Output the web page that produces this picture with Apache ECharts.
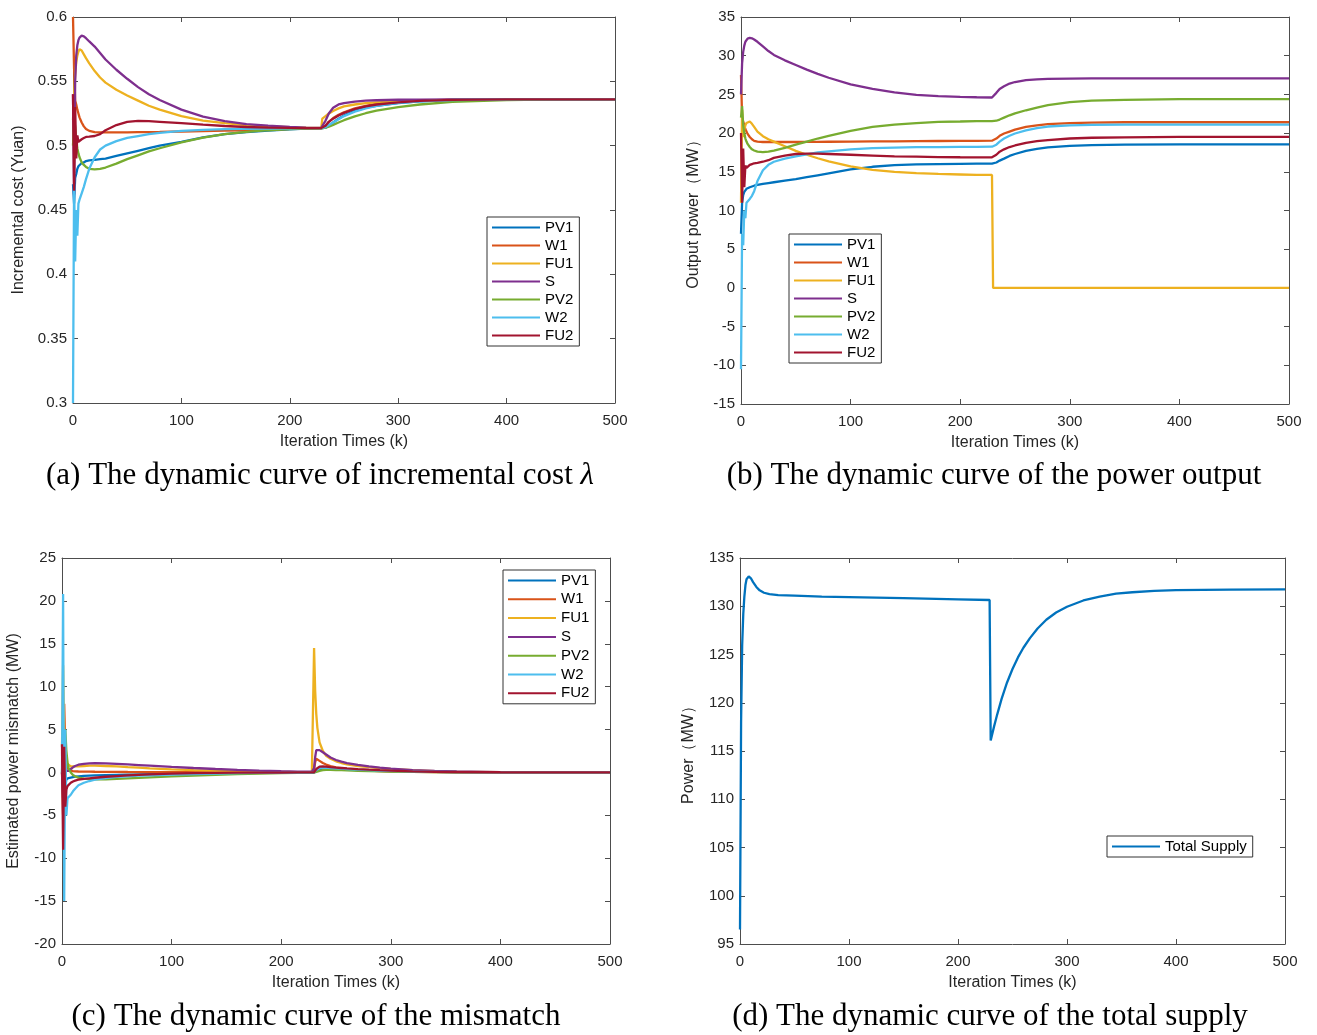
<!DOCTYPE html>
<html><head><meta charset="utf-8">
<script src="https://cdn.jsdelivr.net/npm/echarts@6/dist/echarts.min.js"></script>
<style>html,body{margin:0;padding:0;background:#fff}#c{width:1317px;height:1035px}</style>
</head><body><div id="c"></div><script>
// ---------- data ----------
const NAMES = ['PV1','W1','FU1','S','PV2','W2','FU2'];
const COLORS = ['#0072BD','#D95319','#EDB120','#7E2F8E','#77AC30','#4DBEEE','#A2142F'];
const X_TICKS = [0,100,200,300,400,500];

// iteration samples for panels (a) and (b)
const K_AB = [0,1,2,3,4,5,6,8,10,12,15,20,25,30,40,50,60,70,80,100,120,140,160,180,200,215,229,230,233,236,240,245,250,260,270,280,300,320,350,400,450,500];

// (a) incremental cost
const A_PV1 = [0.47,0.455,0.475,0.478,0.482,0.484,0.485,0.4865,0.487,0.488,0.4885,0.489,0.4895,0.490,0.492,0.494,0.496,0.498,0.500,0.503,0.5065,0.509,0.5105,0.5118,0.5127,0.5132,0.5135,0.5137,0.514,0.5155,0.518,0.521,0.5235,0.527,0.5295,0.531,0.533,0.5345,0.5355,0.536,0.536,0.536];
const A_W1  = [0.60,0.56,0.535,0.532,0.528,0.525,0.522,0.518,0.515,0.513,0.5115,0.5105,0.5103,0.5103,0.5103,0.5104,0.5105,0.5106,0.5107,0.511,0.5113,0.5117,0.512,0.5125,0.513,0.5133,0.5135,0.5137,0.5155,0.5185,0.5215,0.524,0.526,0.529,0.531,0.5325,0.534,0.535,0.5358,0.536,0.536,0.536];
const A_FU1 = [0.52,0.54,0.555,0.565,0.570,0.573,0.575,0.574,0.571,0.568,0.564,0.558,0.553,0.549,0.5435,0.539,0.535,0.531,0.528,0.523,0.5195,0.5175,0.516,0.515,0.5143,0.514,0.5138,0.521,0.523,0.525,0.527,0.529,0.5305,0.532,0.533,0.5337,0.5345,0.535,0.5356,0.536,0.536,0.536];
const A_S   = [0.54,0.462,0.55,0.57,0.578,0.582,0.584,0.5855,0.585,0.5835,0.581,0.577,0.572,0.567,0.559,0.552,0.5455,0.540,0.5355,0.528,0.5225,0.519,0.5168,0.5155,0.5145,0.514,0.5138,0.5138,0.5195,0.525,0.5295,0.532,0.533,0.5342,0.535,0.5353,0.5357,0.5358,0.536,0.536,0.536,0.536];
const A_PV2 = [0.50,0.52,0.515,0.505,0.498,0.494,0.491,0.487,0.485,0.4835,0.482,0.4815,0.482,0.483,0.486,0.4895,0.4925,0.4955,0.498,0.5025,0.5062,0.509,0.5107,0.512,0.5128,0.5132,0.5135,0.5135,0.514,0.5148,0.5162,0.518,0.5198,0.5228,0.5252,0.5272,0.530,0.532,0.534,0.5355,0.536,0.536];
const A_W2  = [0.30,0.47,0.41,0.45,0.43,0.455,0.458,0.463,0.468,0.474,0.482,0.491,0.497,0.500,0.5035,0.506,0.5075,0.509,0.510,0.5115,0.5123,0.5128,0.5131,0.5133,0.5135,0.5136,0.5137,0.5137,0.5145,0.516,0.518,0.5205,0.523,0.5265,0.529,0.531,0.5333,0.5345,0.5355,0.536,0.536,0.536];
const A_FU2 = [0.54,0.465,0.53,0.49,0.508,0.503,0.504,0.505,0.506,0.5068,0.507,0.5075,0.509,0.512,0.516,0.5185,0.5193,0.519,0.5185,0.5175,0.5163,0.5153,0.5145,0.514,0.5138,0.5137,0.5137,0.5137,0.5155,0.5185,0.521,0.5235,0.5255,0.5285,0.5305,0.532,0.5337,0.5348,0.5356,0.536,0.536,0.536];

// (b) power output
const B_PV1 = [7,11,12,12.4,12.6,12.8,12.9,13.0,13.1,13.2,13.3,13.45,13.55,13.65,13.85,14.05,14.3,14.55,14.8,15.3,15.65,15.85,15.95,16.0,16.03,16.05,16.05,16.05,16.2,16.45,16.7,17.05,17.3,17.7,17.95,18.15,18.35,18.45,18.52,18.55,18.55,18.55];
const B_W1  = [27.5,22,21.5,21,20.5,20.2,19.9,19.5,19.2,19.0,18.9,18.85,18.85,18.85,18.85,18.85,18.86,18.87,18.88,18.9,18.92,18.94,18.96,18.98,19.0,19.0,19.02,19.02,19.3,19.65,19.95,20.2,20.45,20.8,21.0,21.15,21.3,21.35,21.4,21.4,21.4,21.4];
const B_FU1 = [11,23,19.5,20.5,21,21.3,21.5,21.5,21.2,20.8,20.2,19.6,19.2,18.9,18.3,17.7,17.2,16.75,16.35,15.7,15.25,15.0,14.82,14.72,14.65,14.6,14.6,0,0,0,0,0,0,0,0,0,0,0,0,0,0,0];
const B_S   = [25,29,30.5,31.3,31.8,32.0,32.2,32.3,32.25,32.1,31.8,31.2,30.6,30.1,29.4,28.8,28.2,27.65,27.15,26.3,25.7,25.25,24.95,24.78,24.68,24.63,24.6,24.6,25.2,25.7,26.05,26.4,26.6,26.85,26.95,27.0,27.05,27.07,27.08,27.08,27.08,27.08];
const B_PV2 = [22,23.5,21,20,19.3,18.9,18.6,18.2,17.9,17.75,17.6,17.55,17.6,17.75,18.1,18.5,18.9,19.3,19.65,20.3,20.8,21.1,21.3,21.45,21.5,21.55,21.56,21.56,21.6,21.75,22.0,22.3,22.55,22.95,23.3,23.6,24.0,24.2,24.3,24.4,24.4,24.4];
const B_W2  = [-10.5,7,5.5,10,9,11,11.2,11.5,11.9,12.5,13.8,15.2,15.9,16.3,16.7,17.0,17.25,17.5,17.65,17.9,18.05,18.12,18.18,18.2,18.22,18.23,18.24,18.24,18.5,18.9,19.3,19.65,19.95,20.35,20.65,20.85,21.0,21.05,21.1,21.1,21.1,21.1];
const B_FU2 = [20,11,18,13,15.8,15.5,15.7,15.9,16.0,16.1,16.15,16.3,16.5,16.8,17.1,17.3,17.35,17.35,17.3,17.2,17.1,17.0,16.95,16.9,16.88,16.87,16.87,16.87,17.2,17.6,17.9,18.2,18.4,18.75,18.95,19.1,19.3,19.4,19.45,19.5,19.5,19.5];

// (c) estimated mismatch
const K_C = [0,1,2,3,4,5,6,8,10,12,15,20,25,30,40,50,60,70,80,100,120,140,160,180,200,215,228,229,230,231,232,233,235,238,241,245,250,255,260,270,280,290,300,320,340,360,400,450,500];
const C_PV1 = [0,-2,1,-1.5,-0.8,-0.7,-0.65,-0.6,-0.55,-0.5,-0.45,-0.4,-0.37,-0.35,-0.32,-0.29,-0.26,-0.23,-0.2,-0.15,-0.11,-0.08,-0.06,-0.04,-0.03,-0.02,-0.01,-0.01,0,0.1,0.2,0.3,0.4,0.45,0.45,0.43,0.4,0.37,0.34,0.28,0.23,0.19,0.16,0.1,0.07,0.04,0.015,0.005,0];
const C_W1  = [0,-5,8,2.5,1,0.5,0.3,0.2,0.15,0.12,0.11,0.1,0.09,0.08,0.07,0.06,0.05,0.045,0.04,0.03,0.025,0.02,0.015,0.01,0.01,0.005,0.005,0.005,0.3,1.2,1.6,1.55,1.35,1.1,0.92,0.75,0.6,0.5,0.42,0.3,0.22,0.16,0.12,0.07,0.04,0.02,0.01,0,0];
const C_FU1 = [3,12.5,4,2.5,1.5,1.0,0.8,0.7,0.7,0.7,0.7,0.75,0.8,0.8,0.75,0.7,0.62,0.55,0.48,0.36,0.26,0.18,0.12,0.08,0.05,0.03,0.02,0.02,14.5,9.5,6.8,5.2,3.5,2.5,1.95,1.6,1.3,1.1,0.95,0.75,0.62,0.5,0.4,0.26,0.16,0.1,0.04,0.01,0];
const C_S   = [0,-3,2,0.5,0.2,0.1,0.2,0.4,0.6,0.75,0.9,1.0,1.05,1.08,1.05,1.0,0.93,0.86,0.79,0.65,0.52,0.4,0.3,0.21,0.14,0.1,0.08,0.08,0.5,1.8,2.6,2.7,2.6,2.35,2.1,1.75,1.45,1.25,1.1,0.88,0.7,0.56,0.45,0.28,0.18,0.11,0.04,0.01,0];
const C_PV2 = [0,4,-2,5,2.5,1.2,0.5,0,-0.3,-0.45,-0.6,-0.72,-0.78,-0.8,-0.8,-0.76,-0.7,-0.64,-0.58,-0.46,-0.36,-0.27,-0.2,-0.14,-0.09,-0.06,-0.05,-0.05,-0.04,0,0.05,0.1,0.18,0.26,0.3,0.3,0.28,0.26,0.24,0.2,0.16,0.13,0.1,0.06,0.04,0.02,0.01,0,0];
const C_W2  = [0,20.8,-15,5,-5,-3,-2.9,-2.6,-2.2,-1.9,-1.5,-1.2,-1.0,-0.85,-0.65,-0.52,-0.45,-0.38,-0.33,-0.25,-0.18,-0.13,-0.09,-0.06,-0.04,-0.03,-0.02,-0.02,0,0.15,0.3,0.4,0.5,0.55,0.55,0.52,0.48,0.44,0.4,0.33,0.27,0.22,0.18,0.12,0.08,0.05,0.02,0.005,0];
const C_FU2 = [3.3,-9,3,-4,-2,-1.6,-1.4,-1.2,-1.05,-0.95,-0.85,-0.75,-0.68,-0.62,-0.5,-0.42,-0.34,-0.28,-0.22,-0.14,-0.09,-0.05,-0.03,-0.02,-0.01,0,0,0,0,0.2,0.4,0.55,0.68,0.7,0.68,0.63,0.57,0.52,0.47,0.39,0.32,0.26,0.21,0.13,0.08,0.05,0.02,0.005,0];

// (d) total supply
const K_D = [0,1,2,3,4,5,6,7,8,10,12,15,18,22,27,35,50,75,100,150,200,229,230,233,236,240,245,250,255,260,266,273,281,290,300,315,330,345,360,380,400,450,500];
const D_TOTAL = [96.5,118,126,129.2,131,132.2,132.8,133.0,133.1,132.9,132.5,132.0,131.65,131.4,131.25,131.15,131.1,131.0,130.95,130.85,130.72,130.65,116.1,117.5,118.8,120.4,122.1,123.5,124.7,125.7,126.7,127.7,128.6,129.35,129.95,130.6,131.0,131.3,131.45,131.6,131.67,131.72,131.75];

const Y_LABELS = ['Incremental cost (Yuan)','Output power（MW）','Estimated power mismatch (MW)','Power（MW）'];
const X_LABEL = 'Iteration Times (k)';
const CAPTIONS = ['(a) The dynamic curve of incremental cost {l|λ}','(b) The dynamic curve of the power output','(c) The dynamic curve of the mismatch','(d) The dynamic curve of the total supply'];

// ---------- layout ----------
const SANS = '"Liberation Sans", Arial, Helvetica, sans-serif';
const SERIF = '"Liberation Serif", "Times New Roman", serif';
const AX = '#4d4d4d';
const TXT = '#262626';
const GRIDS = [
  {left:73, top:17, width:542, height:386},
  {left:741, top:17, width:548, height:387},
  {left:62, top:558, width:548, height:386},
  {left:740, top:558, width:545, height:386}
];
const YR = [
  {min:0.3, max:0.6, interval:0.05},
  {min:-15, max:35, interval:5},
  {min:-20, max:25, interval:5},
  {min:95, max:135, interval:5}
];
const YGAP = [46, 39, 40, 43];

const xAxis = [], yAxis = [];
GRIDS.forEach((g, i) => {
  const line = {show:true, onZero:false, lineStyle:{color:AX, width:1}};
  const tick = {show:true, inside:true, length:5, lineStyle:{color:AX, width:1}};
  xAxis.push({type:'value', gridIndex:i, min:X_TICKS[0], max:X_TICKS[X_TICKS.length-1], interval:X_TICKS[1]-X_TICKS[0],
    position:'bottom', axisLine:line, axisTick:tick, splitLine:{show:false},
    axisLabel:{color:TXT, fontFamily:SANS, fontSize:15, margin:10},
    name:X_LABEL, nameLocation:'middle', nameGap:31,
    nameTextStyle:{color:TXT, fontFamily:SANS, fontSize:16}});
  xAxis.push({type:'value', gridIndex:i, min:X_TICKS[0], max:X_TICKS[X_TICKS.length-1], interval:X_TICKS[1]-X_TICKS[0],
    position:'top', axisLine:line, axisTick:tick, splitLine:{show:false}, axisLabel:{show:false}});
  yAxis.push({type:'value', gridIndex:i, min:YR[i].min, max:YR[i].max, interval:YR[i].interval,
    position:'left', axisLine:line, axisTick:tick, splitLine:{show:false},
    axisLabel:{color:TXT, fontFamily:SANS, fontSize:15, margin:6, formatter:v => String(+v.toFixed(2))},
    name:Y_LABELS[i], nameLocation:'middle', nameGap:YGAP[i],
    nameTextStyle:{color:TXT, fontFamily:SANS, fontSize:16}});
  yAxis.push({type:'value', gridIndex:i, min:YR[i].min, max:YR[i].max, interval:YR[i].interval,
    position:'right', axisLine:line, axisTick:tick, splitLine:{show:false}, axisLabel:{show:false}});
});

function mk(name, xs, ys, color, p) {
  return {type:'line', name, xAxisIndex:2*p, yAxisIndex:2*p, data:xs.map((x, j) => [x, ys[j]]),
    showSymbol:false, symbol:'none', lineStyle:{color, width:2.3}, itemStyle:{color},
    emphasis:{disabled:true}, animation:false, clip:true};
}
const series = [];
[A_PV1,A_W1,A_FU1,A_S,A_PV2,A_W2,A_FU2].forEach((d, j) => series.push(mk(NAMES[j], K_AB, d, COLORS[j], 0)));
[B_PV1,B_W1,B_FU1,B_S,B_PV2,B_W2,B_FU2].forEach((d, j) => series.push(mk(NAMES[j], K_AB, d, COLORS[j], 1)));
[C_PV1,C_W1,C_FU1,C_S,C_PV2,C_W2,C_FU2].forEach((d, j) => series.push(mk(NAMES[j], K_C, d, COLORS[j], 2)));
series.push(mk('Total Supply', K_D, D_TOTAL, COLORS[0], 3));

function leg(left, top, data, gap) {
  return {left, top, orient:'vertical', data, icon:'rect', itemWidth:48, itemHeight:2, itemGap:gap,
    padding:[3,6,3,5], borderColor:'#333', borderWidth:1, backgroundColor:'#fff', selectedMode:false,
    textStyle:{color:'#000', fontFamily:SANS, fontSize:15, lineHeight:15}};
}
const legend = [
  leg(487, 217, NAMES, 3),
  leg(789, 234, NAMES, 3),
  leg(503, 570, NAMES, 3.8),
  leg(1107, 836, ['Total Supply'], 3)
];

const CAP_POS = [[320,476],[994,476],[316,1017],[990,1017]];
const graphic = CAPTIONS.map((t, i) => ({type:'text', x:CAP_POS[i][0], y:CAP_POS[i][1], silent:true,
  style:{text:t, align:'center', verticalAlign:'middle', textAlign:'center', textVerticalAlign:'middle',
    fontFamily:SERIF, fontSize:31, fill:'#000',
    rich:{l:{fontFamily:SERIF, fontStyle:'italic', fontSize:31, fill:'#000'}}}}));

const chart = echarts.init(document.getElementById('c'), null, {renderer:'canvas'});
chart.setOption({animation:false, backgroundColor:'#fff', grid:GRIDS.map(g => Object.assign({containLabel:false}, g)),
  xAxis, yAxis, series, legend, graphic});
</script></body></html>
